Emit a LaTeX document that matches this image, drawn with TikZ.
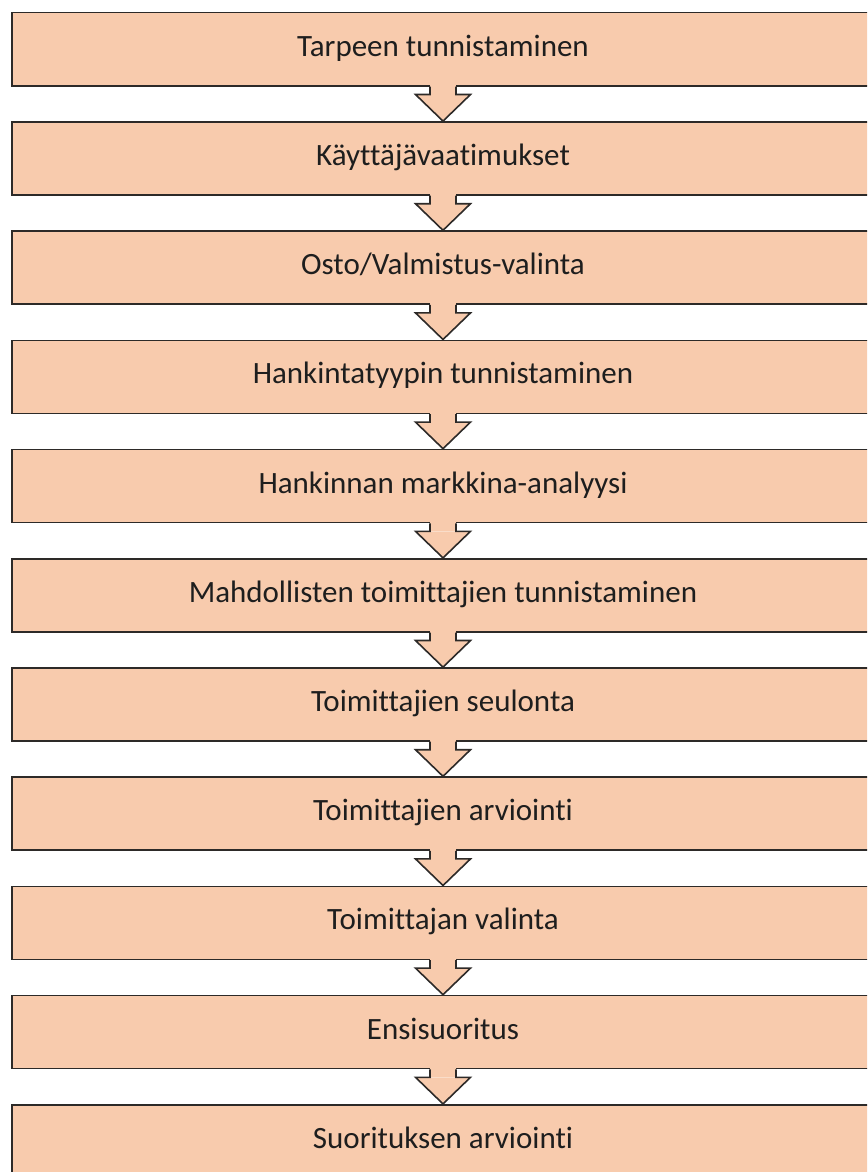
\documentclass[tikz,border=0pt]{standalone}
\usepackage{fontspec}
\setmainfont{Carlito}[Ligatures=NoCommon]
\usepackage{xcolor}
\usetikzlibrary{calc}
\definecolor{stageFill}{RGB}{248,203,173}
\definecolor{stageLine}{RGB}{45,42,40}
\definecolor{stageInk}{RGB}{30,30,30}

\begin{document}
\begin{tikzpicture}[x=1pt,y=1pt,
  stagebox/.style={draw=stageLine,fill=stageFill,line width=1.6pt,
    minimum width=862pt,minimum height=73pt,inner sep=0pt,
    text=stageInk,font=\fontsize{31}{31}\selectfont,
    text height=22pt,text depth=7.8pt},
  flowarrow/.style={draw=stageLine,line width=1.6pt,line join=miter}]
  \def\pitch{109.2}\def\shaft{13}\def\head{27.5}\def\neck{8}
  \clip (0,0) rectangle (867,-1172);
  \useasboundingbox (0,0) rectangle (867,-1172);
  \fill[white] (0,0) rectangle (867,-1172);
  \foreach \i/\lab in {0/Tarpeen tunnistaminen,1/Käyttäjävaatimukset,2/{Osto/Valmistus-valinta},
      3/Hankintatyypin tunnistaminen,4/Hankinnan markkina-analyysi,
      5/Mahdollisten toimittajien tunnistaminen,6/Toimittajien seulonta,
      7/Toimittajien arviointi,8/Toimittajan valinta,9/Ensisuoritus,10/Suorituksen arviointi}{
    \pgfmathsetmacro{\yp}{-49.2-\i*\pitch}
    \node[stagebox] (s\i) at (443,\yp) {\lab};
  }
  % arrows between the stages
  \foreach \i [evaluate=\i as \j using int(\i+1)] in {0,...,9}{
    \fill[stageFill] ([xshift=-\shaft pt,yshift=2pt]s\i.south) rectangle ([xshift=\shaft pt,yshift=-\neck pt]s\i.south);
    \fill[stageFill] ([xshift=-\head pt,yshift=-\neck pt]s\i.south) -- (s\j.north) -- ([xshift=\head pt,yshift=-\neck pt]s\i.south) -- cycle;
    \draw[flowarrow] ([xshift=-\shaft pt]s\i.south) -- ([xshift=-\shaft pt,yshift=-\neck pt]s\i.south)
      -- ([xshift=-\head pt,yshift=-\neck pt]s\i.south) -- (s\j.north)
      -- ([xshift=\head pt,yshift=-\neck pt]s\i.south) -- ([xshift=\shaft pt,yshift=-\neck pt]s\i.south)
      -- ([xshift=\shaft pt]s\i.south);
  }
\end{tikzpicture}
\end{document}
